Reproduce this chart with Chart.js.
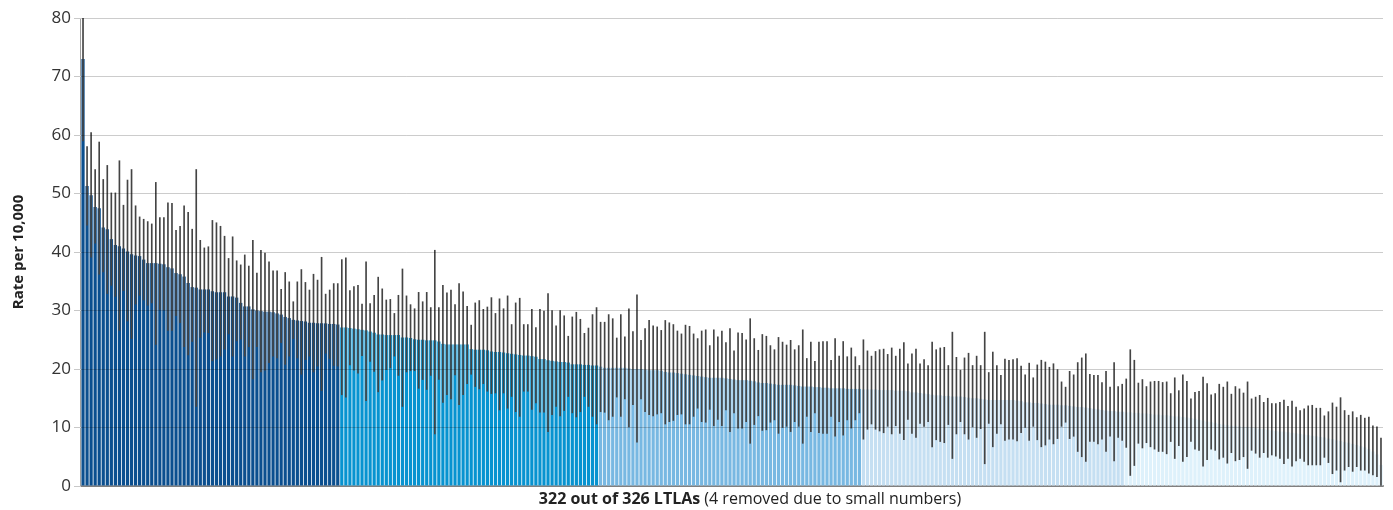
<!DOCTYPE html>
<html>
<head>
<meta charset="utf-8">
<title>Rate per 10,000 by LTLA</title>
<script src="https://cdn.jsdelivr.net/npm/chart.js@4.4.1/dist/chart.umd.min.js"></script>
<style>
  html, body { margin: 0; padding: 0; background: #fff; overflow: hidden; }
  #wrap { position: relative; width: 1393px; height: 510px; }
  #chart { display: block; }
  #xtitle {
    position: absolute; left: 250px; width: 1000px; top: 487px;
    text-align: center; font: 16px "Open Sans", sans-serif; color: #222;
  }
</style>
</head>
<body>
<div id="wrap">
  <canvas id="chart"></canvas>
  <div id="xtitle"><b>322 out of 326 LTLAs</b> (4 removed due to small numbers)</div>
</div>
<script>
// Rates per 10,000 for 322 LTLAs, sorted high to low, with 95% confidence limits.
// Bars are coloured by quintile; groupSizes gives how many LTLAs fall in each.
const groupSizes = [64, 64, 65, 65, 64];

const rate = [
  // quintile 1
  73.0, 51.3, 49.7, 47.7, 47.5, 44.2, 43.9, 42.2, 41.2, 41.0, 40.6, 40.1, 39.6, 39.4, 39.3, 38.7,
  38.1, 38.1, 38.1, 38.0, 37.9, 37.4, 37.2, 36.4, 36.2, 35.8, 34.7, 34.0, 33.9, 33.6, 33.6, 33.6,
  33.3, 33.1, 33.1, 33.1, 32.4, 32.4, 32.2, 31.3, 30.7, 30.7, 30.2, 30.0, 29.9, 29.8, 29.8, 29.7,
  29.5, 29.3, 28.9, 28.7, 28.4, 28.3, 28.2, 28.1, 27.9, 27.9, 27.8, 27.8, 27.8, 27.7, 27.7, 27.6,
  // quintile 2
  27.1, 27.1, 27.0, 26.9, 26.8, 26.7, 26.6, 26.4, 26.2, 25.9, 25.9, 25.8, 25.8, 25.8, 25.8, 25.4,
  25.4, 25.3, 25.1, 25.0, 25.0, 24.9, 24.9, 24.9, 24.7, 24.3, 24.2, 24.2, 24.2, 24.2, 24.2, 24.2,
  23.4, 23.3, 23.3, 23.3, 23.2, 23.0, 22.9, 22.9, 22.8, 22.7, 22.6, 22.5, 22.4, 22.3, 22.3, 22.2,
  22.1, 21.7, 21.7, 21.5, 21.4, 21.3, 21.2, 21.2, 21.1, 20.8, 20.8, 20.8, 20.7, 20.7, 20.6, 20.6,
  // quintile 3
  20.4, 20.2, 20.2, 20.2, 20.2, 20.2, 20.2, 20.1, 20.0, 20.0, 20.0, 19.9, 19.8, 19.8, 19.8, 19.7,
  19.5, 19.4, 19.4, 19.3, 19.2, 19.1, 19.0, 18.9, 18.8, 18.7, 18.6, 18.5, 18.5, 18.5, 18.5, 18.4,
  18.3, 18.2, 18.1, 18.1, 18.1, 18.0, 17.9, 17.7, 17.6, 17.6, 17.5, 17.4, 17.3, 17.3, 17.3, 17.3,
  17.2, 17.1, 17.0, 17.0, 17.0, 16.9, 16.9, 16.8, 16.8, 16.7, 16.7, 16.7, 16.7, 16.6, 16.6, 16.6,
  16.6,
  // quintile 4
  16.5, 16.5, 16.5, 16.5, 16.4, 16.4, 16.4, 16.4, 16.3, 16.3, 16.3, 16.2, 16.0, 16.0, 15.9, 15.8,
  15.7, 15.6, 15.5, 15.5, 15.4, 15.4, 15.3, 15.3, 15.3, 15.2, 15.1, 15.0, 15.0, 14.9, 14.8, 14.7,
  14.7, 14.7, 14.7, 14.7, 14.7, 14.7, 14.6, 14.5, 14.3, 14.3, 14.2, 14.2, 14.1, 14.0, 13.9, 13.9,
  13.9, 13.8, 13.8, 13.7, 13.6, 13.5, 13.5, 13.4, 13.3, 13.2, 13.1, 13.0, 12.9, 12.8, 12.8, 12.7,
  12.7,
  // quintile 5
  12.6, 12.6, 12.5, 12.5, 12.4, 12.4, 12.3, 12.2, 12.2, 12.1, 12.1, 12.0, 11.9, 11.9, 11.8, 11.7,
  11.6, 11.5, 11.3, 11.2, 11.0, 10.9, 10.8, 10.6, 10.5, 10.4, 10.3, 10.3, 10.2, 10.1, 10.1, 10.0,
  9.9, 9.8, 9.7, 9.6, 9.5, 9.4, 9.3, 9.3, 9.2, 9.1, 9.0, 8.9, 8.8, 8.7, 8.6, 8.5,
  8.4, 8.3, 8.1, 8.0, 7.8, 7.7, 7.5, 7.4, 7.2, 7.0, 6.8, 6.6, 6.3, 5.9, 5.4, 3.6
];

const lower = [
  59.0, 44.6, 39.1, 41.5, 36.2, 36.6, 32.9, 34.3, 32.4, 26.6, 33.4, 28.2, 25.2, 31.1, 32.6, 31.8,
  30.9, 31.3, 24.2, 30.2, 30.1, 26.6, 26.6, 29.1, 27.9, 23.8, 22.4, 24.7, 13.6, 25.4, 26.3, 26.2,
  21.4, 21.7, 22.2, 23.4, 26.0, 22.2, 24.8, 25.1, 22.2, 23.8, 18.3, 23.8, 19.5, 19.8, 21.1, 22.2,
  21.9, 24.5, 20.8, 22.2, 25.2, 21.9, 19.1, 21.6, 22.2, 19.5, 20.5, 16.3, 22.7, 21.8, 20.6, 20.5,
  15.6, 15.2, 20.7, 19.8, 19.3, 22.3, 14.6, 21.3, 19.6, 16.1, 18.1, 19.9, 20.2, 22.2, 18.9, 13.6,
  19.5, 19.7, 19.7, 16.7, 18.2, 16.5, 18.9, 8.9, 18.2, 14.3, 15.6, 14.9, 19.0, 13.9, 15.6, 17.5,
  19.1, 17.0, 16.6, 17.5, 16.2, 15.8, 15.9, 13.0, 15.9, 13.3, 15.3, 12.7, 11.9, 16.2, 16.2, 13.1,
  14.2, 12.6, 12.6, 9.3, 12.2, 13.6, 12.0, 12.9, 15.3, 12.5, 11.8, 12.7, 15.3, 13.6, 11.9, 10.6,
  12.7, 12.6, 11.3, 11.9, 15.2, 11.9, 14.9, 10.1, 13.9, 7.5, 14.9, 12.7, 12.2, 12.0, 12.3, 12.5,
  10.6, 11.0, 11.2, 12.2, 12.3, 10.6, 10.6, 11.9, 13.3, 11.0, 10.9, 13.1, 10.3, 11.4, 10.3, 13.0,
  9.3, 12.5, 9.9, 9.9, 11.0, 7.3, 10.5, 12.0, 9.5, 9.6, 10.9, 11.3, 9.0, 10.0, 10.2, 9.3,
  11.0, 10.2, 7.3, 11.9, 9.3, 12.5, 9.1, 9.0, 9.0, 11.9, 8.5, 11.0, 8.7, 11.3, 9.9, 11.3,
  12.5,
  8.0, 9.7, 10.6, 9.7, 9.4, 9.1, 10.2, 8.9, 10.3, 9.0, 7.9, 11.4, 9.0, 8.3, 10.7, 10.2,
  11.0, 6.7, 7.9, 7.6, 7.4, 10.5, 4.7, 8.9, 11.0, 8.9, 8.0, 10.1, 8.3, 9.8, 3.8, 10.7,
  6.7, 9.0, 10.6, 7.8, 8.0, 8.0, 7.7, 9.1, 10.0, 7.8, 10.2, 7.9, 6.7, 7.0, 8.0, 7.2,
  8.1, 10.2, 10.9, 8.1, 8.5, 5.9, 5.0, 4.2, 7.6, 7.6, 7.2, 8.0, 5.9, 8.5, 4.3, 8.3,
  7.8,
  6.6, 1.8, 3.5, 7.3, 6.5, 7.4, 6.7, 6.3, 5.9, 5.9, 5.5, 7.6, 4.7, 6.9, 4.2, 5.0,
  7.6, 6.3, 6.1, 3.4, 4.5, 6.3, 6.1, 4.6, 4.9, 3.9, 5.7, 4.3, 4.5, 5.0, 3.0, 6.1,
  5.6, 4.9, 5.7, 4.9, 5.3, 5.1, 4.7, 3.8, 4.7, 3.4, 4.3, 4.7, 4.2, 3.6, 3.6, 3.6,
  3.6, 4.9, 4.0, 2.1, 2.7, 0.7, 2.7, 3.3, 2.5, 3.3, 2.7, 2.7, 2.2, 1.9, 1.6, 0.0
];

const upper = [
  80.0, 58.0, 60.4, 54.1, 58.8, 52.4, 54.8, 50.1, 50.1, 55.6, 48.0, 52.3, 54.1, 47.9, 46.0, 45.6,
  45.2, 44.8, 51.9, 45.9, 45.9, 48.4, 48.3, 43.7, 44.4, 47.9, 46.8, 43.9, 54.1, 42.0, 40.7, 40.9,
  45.4, 45.0, 44.4, 42.7, 38.9, 42.6, 38.5, 37.8, 39.5, 37.6, 42.0, 36.4, 40.3, 39.8, 38.3, 36.8,
  36.8, 33.6, 36.5, 34.9, 31.5, 34.9, 37.0, 34.8, 33.5, 36.2, 35.2, 39.1, 32.8, 33.5, 34.6, 34.6,
  38.7, 39.0, 33.4, 34.1, 34.3, 31.1, 38.3, 31.2, 32.6, 35.7, 33.7, 31.8, 31.9, 29.5, 32.6, 37.1,
  32.5, 31.0, 30.3, 33.1, 31.5, 33.1, 30.5, 40.3, 30.5, 34.3, 33.0, 33.5, 31.0, 34.6, 33.2, 30.7,
  27.5, 31.3, 31.7, 30.2, 30.6, 32.2, 29.5, 32.0, 30.3, 32.5, 27.6, 31.3, 32.1, 27.6, 27.6, 30.2,
  27.1, 30.2, 29.9, 32.9, 30.0, 27.4, 30.0, 29.1, 25.6, 28.9, 29.7, 28.5, 26.1, 27.0, 29.3, 30.5,
  28.0, 28.0, 29.3, 28.6, 25.3, 29.3, 25.5, 30.3, 26.4, 32.7, 24.9, 26.9, 28.3, 27.4, 27.2, 26.6,
  28.3, 27.9, 27.6, 26.5, 26.0, 27.5, 27.3, 26.0, 25.2, 26.5, 26.7, 24.0, 26.7, 25.5, 26.5, 24.5,
  26.9, 23.1, 26.2, 26.1, 25.0, 28.6, 25.2, 23.2, 25.9, 25.6, 24.0, 23.3, 25.4, 24.6, 24.1, 24.9,
  23.3, 24.0, 26.7, 21.8, 24.6, 21.3, 24.6, 24.7, 24.7, 21.5, 25.2, 22.2, 24.7, 22.1, 23.6, 22.1,
  20.6,
  25.0, 23.1, 22.2, 23.0, 23.3, 23.4, 22.5, 23.6, 22.2, 23.4, 24.5, 20.9, 22.6, 23.4, 20.9, 21.6,
  20.6, 24.6, 23.3, 23.6, 23.7, 20.6, 26.3, 22.0, 19.8, 21.9, 22.7, 20.6, 22.2, 20.6, 26.3, 19.4,
  22.9, 20.6, 18.9, 21.7, 21.5, 21.6, 21.8, 20.5, 19.0, 21.0, 18.5, 20.7, 21.5, 21.2, 20.3, 20.9,
  19.9, 17.8, 16.9, 19.6, 19.0, 21.1, 21.9, 22.6, 19.1, 18.9, 18.9, 17.7, 19.6, 16.9, 21.1, 17.0,
  17.4,
  18.3, 23.3, 21.5, 17.6, 18.2, 17.0, 17.8, 17.9, 17.9, 17.7, 17.8, 15.8, 18.5, 16.3, 19.0, 17.9,
  14.9, 16.0, 16.2, 18.6, 17.5, 15.6, 15.8, 17.4, 16.9, 17.8, 15.7, 17.0, 16.6, 15.9, 17.8, 14.9,
  15.2, 15.5, 14.3, 15.0, 14.1, 14.1, 14.3, 14.7, 13.6, 14.5, 13.5, 12.9, 13.2, 13.7, 13.8, 13.3,
  13.3, 12.0, 12.7, 14.2, 13.5, 15.1, 12.9, 12.1, 12.7, 11.7, 12.1, 11.6, 11.8, 10.3, 10.1, 8.2
];

// y axis runs 0 to 80 in steps of 10
const yMin = 0;
const yMax = 80;
const yStep = 10;

const groupColours = ['#0b4f8f', '#0793d0', '#78b8e2', '#c5dff2', '#def1fb'];
const fontFamily = '"Open Sans", "Noto Sans", sans-serif';

// one label per LTLA (names are not shown on the chart)
const labels = rate.map((_, i) => 'LTLA ' + (i + 1));

// colour each bar by the quintile it falls in
const barColours = [];
groupSizes.forEach((n, g) => {
  for (let k = 0; k < n; k++) barColours.push(groupColours[g]);
});

// the built-in y border landed at the canvas edge, so draw the axis line here
const yAxisLine = {
  id: 'yAxisLine',
  afterDatasetsDraw(chart) {
    const { ctx, chartArea } = chart;
    ctx.save();
    ctx.strokeStyle = '#a0a0a0';
    ctx.lineWidth = 1;
    ctx.beginPath();
    ctx.moveTo(chartArea.left - 0.5, chartArea.top);
    ctx.lineTo(chartArea.left - 0.5, chartArea.bottom);
    ctx.stroke();
    ctx.restore();
  }
};

const ctx = document.getElementById('chart').getContext('2d');
const wrap = document.getElementById('wrap');
ctx.canvas.width = wrap.clientWidth;
ctx.canvas.height = wrap.clientHeight;

new Chart(ctx, {
  type: 'bar',
  data: {
    labels: labels,
    datasets: [
      {
        // confidence interval drawn as a thin floating bar on top
        label: '95% confidence interval',
        data: lower.map((lo, i) => [lo, upper[i]]),
        backgroundColor: '#444444',
        barThickness: 1,
        grouped: false,
        order: 0
      },
      {
        label: 'Rate per 10,000',
        data: rate,
        backgroundColor: barColours,
        barPercentage: 0.8,
        categoryPercentage: 1,
        grouped: false,
        order: 1
      }
    ]
  },
  plugins: [yAxisLine],
  options: {
    responsive: false,
    animation: false,
    layout: { padding: { top: 18, right: 10, bottom: 16, left: 10 } },
    plugins: {
      legend: { display: false },
      tooltip: { enabled: false }
    },
    scales: {
      x: {
        ticks: { display: false },
        grid: { display: false },
        border: { display: true, color: '#a0a0a0', width: 2 }
      },
      y: {
        min: yMin,
        max: yMax,
        // fixed axis width so the plot starts where the original does
        afterFit: (axis) => { axis.width = 71; },
        ticks: {
          stepSize: yStep,
          color: '#333',
          padding: 3,
          font: { family: fontFamily, size: 17 }
        },
        grid: {
          color: 'rgba(0, 0, 0, 0.2)',
          tickColor: '#c8c8c8',
          tickLength: 7,
          z: 1
        },
        border: { display: false },
        title: {
          display: true,
          text: 'Rate per 10,000',
          color: '#222',
          padding: { top: 0, bottom: 8 },
          font: { family: fontFamily, size: 15, weight: 'bold' }
        }
      }
    }
  }
});
</script>
</body>
</html>
